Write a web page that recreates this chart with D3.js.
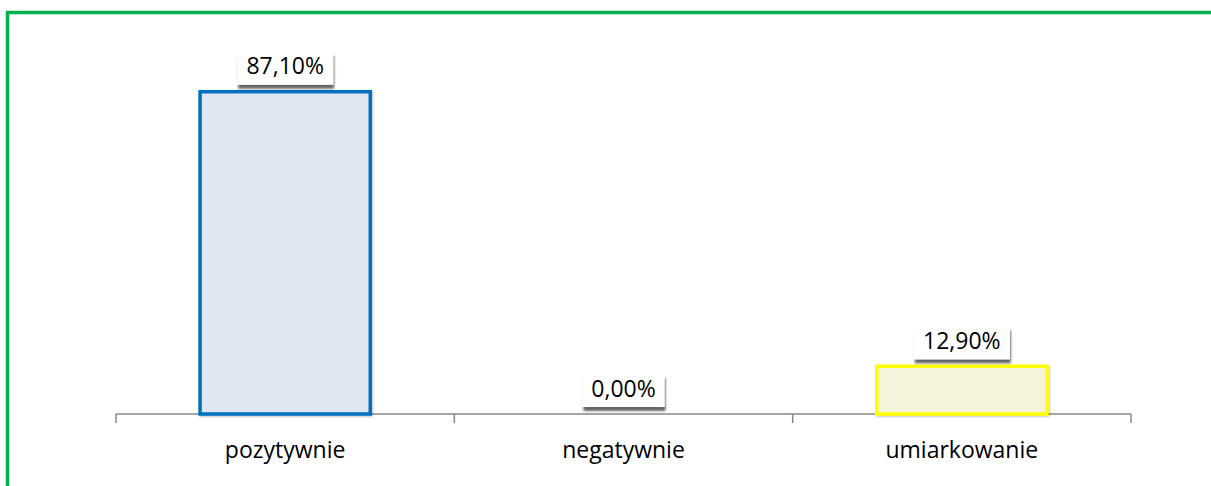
<!DOCTYPE html>
<html>
<head>
<meta charset="utf-8">
<script src="https://cdn.jsdelivr.net/npm/d3@7"></script>
<style>
  html, body { margin: 0; padding: 0; background: #fff; }
  svg { display: block; }
</style>
</head>
<body>
<svg id="chart" width="1211" height="486"></svg>
<script>
const categories = ["pozytywnie", "negatywnie", "umiarkowanie"];
const values = [87.10, 0.00, 12.90];
const valueLabels = ["87,10%", "0,00%", "12,90%"];
const strokeColors = ["#0070C0", "#7F7F7F", "#FFFF00"];
const fillColors = ["#DFE7F0", "#F2F2F2", "#F4F4DC"];

const svg = d3.select("#chart");
const W = 1211, H = 486;

const defs = svg.append("defs");
const sh = defs.append("filter").attr("id", "shadow").attr("x", "-20%").attr("y", "-20%").attr("width", "150%").attr("height", "160%");
sh.append("feGaussianBlur").attr("in", "SourceAlpha").attr("stdDeviation", 1.3).attr("result", "b");
sh.append("feOffset").attr("in", "b").attr("dx", 1).attr("dy", 4).attr("result", "o");
sh.append("feComponentTransfer").attr("in", "o").attr("result", "s")
  .append("feFuncA").attr("type", "linear").attr("slope", 0.6);
const m = sh.append("feMerge");
m.append("feMergeNode").attr("in", "s");
m.append("feMergeNode").attr("in", "SourceGraphic");

const bsh = defs.append("filter").attr("id", "barshadow").attr("x", "-10%").attr("y", "-10%").attr("width", "120%").attr("height", "120%");
bsh.append("feGaussianBlur").attr("in", "SourceAlpha").attr("stdDeviation", 1.2).attr("result", "b");
bsh.append("feOffset").attr("in", "b").attr("dx", 1).attr("dy", 1).attr("result", "o");
bsh.append("feComponentTransfer").attr("in", "o").attr("result", "s")
  .append("feFuncA").attr("type", "linear").attr("slope", 0.25);
const m2 = bsh.append("feMerge");
m2.append("feMergeNode").attr("in", "s");
m2.append("feMergeNode").attr("in", "SourceGraphic");

// outer green frame (extends past the picture)
svg.append("rect")
  .attr("x", 7.5).attr("y", 12.5)
  .attr("width", W + 20).attr("height", H + 20)
  .attr("fill", "none")
  .attr("stroke", "#00B050").attr("stroke-width", 3.5);

const x = d3.scaleBand().domain(categories).range([116, 1131]).paddingInner(0.497).paddingOuter(0.2485);
const y = d3.scaleLinear().domain([0, 100]).range([414, 44]);

// axis
const axisG = svg.append("g").attr("transform", "translate(0,414)");
const xEdges = d3.scaleBand().domain(categories).range([116, 1131]);
axisG.append("line").attr("x1", 116).attr("x2", 1131).attr("y1", 0).attr("y2", 0)
  .attr("stroke", "#878787").attr("stroke-width", 1.5);
const tickPos = categories.map(c => xEdges(c)).concat([1131]);
axisG.selectAll("line.tick").data(tickPos).enter().append("line")
  .attr("class", "tick")
  .attr("x1", d => d).attr("x2", d => d).attr("y1", 0).attr("y2", 9)
  .attr("stroke", "#878787").attr("stroke-width", 1.5);

// bars
const bw = x.bandwidth();
svg.selectAll("rect.bar").data(values).enter().append("rect")
  .attr("class", "bar")
  .attr("x", (d, i) => x(categories[i]))
  .attr("y", d => y(d))
  .attr("width", bw)
  .attr("height", d => y(0) - y(d))
  .attr("fill", (d, i) => fillColors[i])
  .attr("stroke", (d, i) => strokeColors[i])
  .attr("stroke-width", 3.5)
  .attr("filter", "url(#barshadow)")
  .style("display", d => d > 0 ? null : "none");

// category labels
svg.selectAll("text.cat").data(categories).enter().append("text")
  .attr("class", "cat")
  .attr("x", d => xEdges(d) + xEdges.bandwidth() / 2)
  .attr("y", 458)
  .attr("text-anchor", "middle")
  .attr("font-family", "'Open Sans', sans-serif")
  .attr("font-size", 23)
  .attr("fill", "#000")
  .text(d => d);

// value labels with boxes
const lab = svg.selectAll("g.lab").data(values).enter().append("g")
  .attr("class", "lab")
  .attr("transform", (d, i) => `translate(${xEdges(categories[i]) + xEdges.bandwidth() / 2},${y(d) - 7})`);
lab.append("rect")
  .attr("x", (d, i) => i === 1 ? -41 : -48)
  .attr("y", -33)
  .attr("width", (d, i) => i === 1 ? 82 : 96)
  .attr("height", 33)
  .attr("fill", "#fff")
  .attr("filter", "url(#shadow)");
lab.append("text")
  .attr("x", 0).attr("y", -10.5)
  .attr("text-anchor", "middle")
  .attr("font-family", "'Open Sans', sans-serif")
  .attr("font-size", 23)
  .attr("fill", "#000")
  .text((d, i) => valueLabels[i]);
</script>
</body>
</html>
